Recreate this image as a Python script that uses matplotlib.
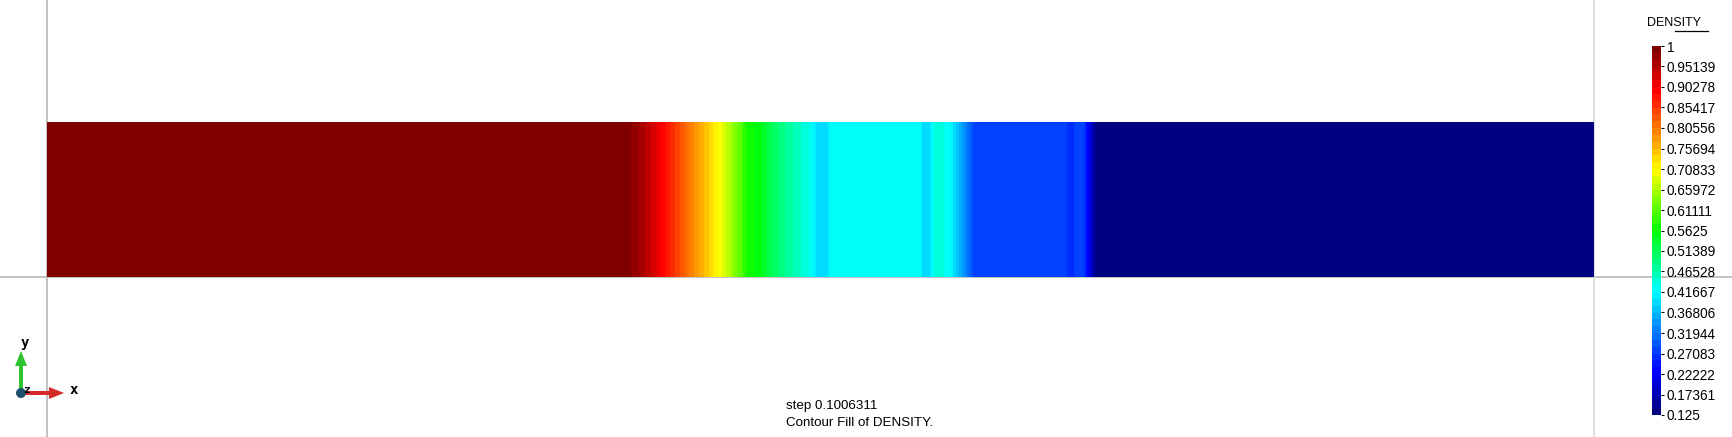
import numpy as np
import matplotlib
matplotlib.use("Agg")
import matplotlib.pyplot as plt
from matplotlib.colors import LinearSegmentedColormap, ListedColormap
from matplotlib.patches import FancyArrow, Circle

plt.rcParams['font.family'] = ['Liberation Sans', 'DejaVu Sans']

# ---- data (domain x in [0,1], density at mesh nodes) ----
x_nodes = [0.0, 0.3723, 0.3775, 0.3833, 0.3904, 0.4337, 0.4480, 0.4518,
           0.4622, 0.4674, 0.4745, 0.4861, 0.4919, 0.4964, 0.4984, 0.5036,
           0.5055, 0.5074, 0.5643, 0.5656, 0.5708, 0.5727, 0.5747, 0.5785,
           0.5811, 0.5837, 0.5999, 0.6587, 0.6600, 0.6626, 0.6639, 0.6703,
           0.6787, 1.0]
density = [1.0, 1.0, 0.984, 0.965, 0.935, 0.709, 0.615, 0.579,
           0.546, 0.52, 0.49, 0.453, 0.435, 0.41, 0.385, 0.385,
           0.41, 0.426, 0.426, 0.40, 0.40, 0.426, 0.443, 0.443,
           0.426, 0.42, 0.275, 0.275, 0.258, 0.258, 0.275, 0.275,
           0.125, 0.125]
y_nodes = [0.0, 0.1]

rho_min, rho_max = 0.125, 1.0
n_bands = 54
tick_values = [0.125, 0.17361, 0.22222, 0.27083, 0.31944, 0.36806, 0.41667,
               0.46528, 0.51389, 0.5625, 0.61111, 0.65972, 0.70833, 0.75694,
               0.80556, 0.85417, 0.90278, 0.95139, 1.0]
tick_labels = ['0.125', '0.17361', '0.22222', '0.27083', '0.31944', '0.36806',
               '0.41667', '0.46528', '0.51389', '0.5625', '0.61111', '0.65972',
               '0.70833', '0.75694', '0.80556', '0.85417', '0.90278', '0.95139', '1']
step_text = 'step 0.1006311'
title_text = 'Contour Fill of DENSITY.'
field_name = 'DENSITY'

# ---- colormap (GiD-like rainbow, discrete bands) ----
base = LinearSegmentedColormap.from_list(
    'gid', [(0, (0, 0, 0.5)), (1/9, (0, 0, 1)), (1/3, (0, 1, 1)), (1/2, (0, 1, 0)),
            (2/3, (1, 1, 0)), (8/9, (1, 0, 0)), (1, (0.5, 0, 0))])
cmap = ListedColormap(base(np.linspace(0, 1, n_bands)))
levels = np.linspace(rho_min, rho_max, n_bands + 1)

W, H = 1732, 437
fig = plt.figure(figsize=(W / 100, H / 100), dpi=100)

# main axes: domain x 0..1 maps to px 47..1594, y=0 at px 277 from top
s = 1547.0
ax = fig.add_axes([0, 0, 1, 1])
ax.set_xlim(-47 / s, (W - 47) / s)
ax.set_ylim(-160 / s, (H - 160) / s)
ax.axis('off')

X, Y = np.meshgrid(x_nodes, y_nodes)
Z = np.vstack([density, density])
cs = ax.contourf(X, Y, Z, levels=levels, cmap=cmap, vmin=rho_min, vmax=rho_max,
                 antialiased=False, zorder=1)

ax.axvline(0, color='#bdbdbd', lw=1.3, zorder=0)
ax.axhline(0, color='#bdbdbd', lw=1.3, zorder=0)
ax.axvline(1, color='#dcdcdc', lw=1.3, zorder=0)

# colorbar
cax = fig.add_axes([1652 / W, (H - 415) / H, 9 / W, 369 / H])
cb = fig.colorbar(cs, cax=cax, ticks=tick_values)
cb.ax.set_yticklabels(tick_labels)
cb.outline.set_visible(False)
cb.ax.tick_params(length=2, width=0.8, pad=2, labelsize=9.8, colors='black')
cb.ax.minorticks_off()

# overlay for annotations (pixel space)
ov = fig.add_axes([0, 0, 1, 1], facecolor='none')
ov.set_xlim(0, W)
ov.set_ylim(H, 0)
ov.axis('off')

ov.text(1647, 23, field_name, fontsize=9, va='center', ha='left')
ov.plot([1675, 1708], [31, 31], color='black', lw=0.9)

ov.text(786, 406, step_text, fontsize=9.6, va='center', ha='left')
ov.text(786, 423, title_text, fontsize=9.6, va='center', ha='left')

# axes triad
ov.add_patch(FancyArrow(21, 393, 0, -42, width=4, head_width=12, head_length=15,
                        length_includes_head=True, color='#2fc42f', lw=0))
ov.add_patch(FancyArrow(21, 393, 43, 0, width=4, head_width=12, head_length=15,
                        length_includes_head=True, color='#d42a2a', lw=0))
ov.add_patch(Circle((21, 393), 5, color='#1e4f6c', lw=0))
ov.text(25, 343, 'y', fontsize=10, fontweight='bold', family='DejaVu Sans Mono',
        ha='center', va='center')
ov.text(26, 390, 'z', fontsize=8, fontweight='bold', family='DejaVu Sans Mono',
        ha='center', va='center')
ov.text(74, 390, 'x', fontsize=10, fontweight='bold', family='DejaVu Sans Mono',
        ha='center', va='center')

fig.savefig('out.png', dpi=100)
